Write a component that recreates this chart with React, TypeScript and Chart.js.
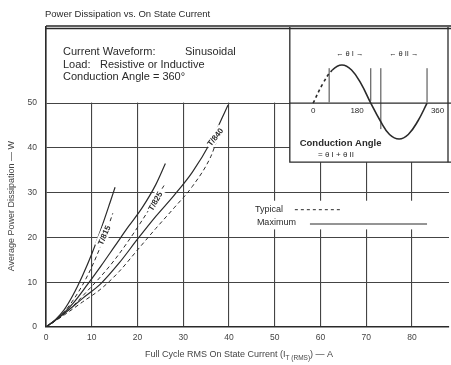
import React, { useEffect, useRef } from "react";
import { Chart, registerables } from "chart.js";
Chart.register(...registerables);

const xTicks = [0, 10, 20, 30, 40, 50, 60, 70, 80];
const yTicks = [0, 10, 20, 30, 40, 50];

const c1MaxX = [0, 2, 4, 6, 8, 10, 12, 14, 15.1];
const c1MaxY = [0, 1.6, 3.9, 7.3, 11.5, 16.3, 21.8, 27.8, 31.2];
const c1TypX = [0, 2, 4, 6, 8, 10, 12, 14, 14.6];
const c1TypY = [0, 1.4, 3.4, 6.1, 9.4, 13.4, 18.2, 23.6, 25.4];

const c2MaxX = [0, 3, 6, 9, 12, 15, 18, 21, 24, 26.1];
const c2MaxY = [0, 2.3, 5.4, 9.4, 13.6, 18.0, 22.4, 26.6, 31.8, 36.5];
const c2TypX = [0, 3, 6, 9, 12, 15, 18, 21, 24, 25.8];
const c2TypY = [0, 2.1, 4.8, 8.0, 11.3, 15.0, 19.2, 23.8, 28.6, 31.6];

const c3MaxX = [0, 4, 8, 12, 16, 20, 24, 28, 32, 36, 39.8];
const c3MaxY = [0, 3.0, 6.4, 9.7, 14.3, 19.6, 24.7, 29.4, 34.6, 41.3, 49.6];
const c3TypX = [0, 4, 8, 12, 16, 20, 24, 28, 32, 36, 37.4];
const c3TypY = [0, 2.7, 5.6, 8.5, 12.4, 17.2, 22.0, 26.6, 31.4, 38.0, 41.8];

const curveLabels = ["T/815", "T/825", "T/840"];
const curveLabelX = [12.7, 23.9, 37.0];
const curveLabelY = [20.5, 28.1, 42.4];
const curveLabelAngle = [66, 60, 52];

const sineX = [58.4, 60.5, 62.6, 64.7, 66.8, 68.9, 71.0, 73.1, 75.1, 77.2, 79.2, 81.3, 83.3];
const sineY = [50, 54.3, 57.4, 58.5, 57.4, 54.3, 50, 46, 43, 42, 43, 46, 50];

const FONT = "'Liberation Sans', Arial, Helvetica, sans-serif";
const INK = "#2a2a2a";

const pts = (xs: number[], ys: number[]) => xs.map((x, i) => ({ x, y: ys[i] }));

const decor = {
  id: "decor",
  beforeDatasetsDraw(chart: any) {
    const { ctx, chartArea: a, scales } = chart;
    const xs = scales.x, ys = scales.y;
    const y50 = ys.getPixelForValue(50);
    const xBox = xs.getPixelForValue(53.3);
    const yBoxBottom = ys.getPixelForValue(36.8);
    ctx.save();
    ctx.fillStyle = "#fff";
    // top text box
    ctx.fillRect(a.left + 1, a.top, a.right - a.left, y50 - a.top - 0.5);
    // inset box
    ctx.fillRect(xBox, a.top, a.right - xBox + 2, yBoxBottom - a.top);
    // legend background
    ctx.fillRect(xs.getPixelForValue(44.5), ys.getPixelForValue(28.2), xs.getPixelForValue(84.5) - xs.getPixelForValue(44.5), ys.getPixelForValue(21.8) - ys.getPixelForValue(28.2));
    ctx.strokeStyle = INK;
    ctx.lineWidth = 1.3;
    // sine axis line
    ctx.beginPath();
    ctx.moveTo(xBox, y50);
    ctx.lineTo(a.right + 2, y50);
    ctx.stroke();
    // inset border
    ctx.beginPath();
    ctx.moveTo(xBox, a.top);
    ctx.lineTo(xBox, yBoxBottom);
    ctx.lineTo(a.right + 2, yBoxBottom);
    ctx.stroke();
    ctx.beginPath();
    ctx.moveTo(a.right - 1, a.top);
    ctx.lineTo(a.right - 1, yBoxBottom);
    ctx.stroke();
    // top frame (double line)
    ctx.lineWidth = 1.4;
    ctx.beginPath();
    ctx.moveTo(a.left, a.top - 1);
    ctx.lineTo(a.right + 2, a.top - 1);
    ctx.moveTo(a.left, a.top + 1.5);
    ctx.lineTo(a.right + 2, a.top + 1.5);
    ctx.stroke();
    // bracket lines in inset
    ctx.lineWidth = 0.9;
    const br = [
      [61.9, 57.8, 50.2],
      [71.0, 57.8, 50.5],
      [73.2, 57.8, 44.2],
      [83.3, 57.8, 50.2],
    ];
    ctx.beginPath();
    br.forEach(([x, y1, y2]) => {
      const px = xs.getPixelForValue(x);
      ctx.moveTo(px, ys.getPixelForValue(y1));
      ctx.lineTo(px, ys.getPixelForValue(y2));
    });
    ctx.stroke();
    // legend samples
    ctx.lineWidth = 1;
    ctx.setLineDash([3, 3]);
    ctx.beginPath();
    ctx.moveTo(xs.getPixelForValue(54.4), ys.getPixelForValue(26.2));
    ctx.lineTo(xs.getPixelForValue(64.3), ys.getPixelForValue(26.2));
    ctx.stroke();
    ctx.setLineDash([]);
    ctx.beginPath();
    ctx.moveTo(xs.getPixelForValue(57.7), ys.getPixelForValue(23.0));
    ctx.lineTo(xs.getPixelForValue(83.3), ys.getPixelForValue(23.0));
    ctx.stroke();
    ctx.restore();
  },
  afterDatasetsDraw(chart: any) {
    const { ctx, chartArea: a, scales } = chart;
    const xs = scales.x, ys = scales.y;
    ctx.save();
    ctx.fillStyle = INK;
    ctx.textBaseline = "middle";
    // title
    ctx.font = `9.5px ${FONT}`;
    ctx.textAlign = "left";
    ctx.fillText("Power Dissipation vs. On State Current", 45, 14);
    // text box
    ctx.font = `11px ${FONT}`;
    ctx.fillText("Current Waveform:", 63, 52);
    ctx.fillText("Sinusoidal", 185, 52);
    ctx.fillText("Load:", 63, 65);
    ctx.fillText("Resistive or Inductive", 100, 65);
    ctx.fillText("Conduction Angle = 360\u00b0", 63, 77);
    // inset labels
    ctx.font = `8px ${FONT}`;
    ctx.textAlign = "center";
    ctx.fillText("0", xs.getPixelForValue(58.4), ys.getPixelForValue(48.2));
    ctx.fillText("180", xs.getPixelForValue(68.0), ys.getPixelForValue(48.2));
    ctx.fillText("360", xs.getPixelForValue(85.6), ys.getPixelForValue(48.2));
    ctx.font = `7.5px ${FONT}`;
    ctx.fillText("\u2190 \u03b8 I \u2192", xs.getPixelForValue(66.4), ys.getPixelForValue(61.0));
    ctx.fillText("\u2190 \u03b8 II \u2192", xs.getPixelForValue(78.2), ys.getPixelForValue(61.0));
    ctx.font = `bold 9.5px ${FONT}`;
    ctx.fillText("Conduction Angle", xs.getPixelForValue(64.4), ys.getPixelForValue(41.1));
    ctx.font = `8px ${FONT}`;
    ctx.fillText("= \u03b8 I + \u03b8 II", xs.getPixelForValue(63.4), ys.getPixelForValue(38.5));
    // legend
    ctx.textAlign = "left";
    ctx.font = `9px ${FONT}`;
    ctx.fillText("Typical", xs.getPixelForValue(45.7), ys.getPixelForValue(26.3));
    ctx.fillText("Maximum", xs.getPixelForValue(46.1), ys.getPixelForValue(23.4));
    // curve labels
    ctx.font = `bold 8px ${FONT}`;
    curveLabels.forEach((t, i) => {
      const px = xs.getPixelForValue(curveLabelX[i]);
      const py = ys.getPixelForValue(curveLabelY[i]);
      ctx.save();
      ctx.translate(px, py);
      ctx.rotate((-curveLabelAngle[i] * Math.PI) / 180);
      const w = ctx.measureText(t).width;
      ctx.fillStyle = "#fff";
      ctx.fillRect(-w / 2 - 2, -5, w + 4, 10);
      ctx.fillStyle = INK;
      ctx.textAlign = "center";
      ctx.fillText(t, 0, 0.5);
      ctx.restore();
    });
    // axis titles
    ctx.fillStyle = "#444";
    ctx.font = `9px ${FONT}`;
    ctx.save();
    ctx.translate(12, ys.getPixelForValue(27));
    ctx.rotate(-Math.PI / 2);
    ctx.textAlign = "center";
    ctx.fillText("Average Power Dissipation \u2014 W", 0, 0);
    ctx.restore();
    // x title with subscript
    const p1 = "Full Cycle RMS On State Current (I";
    const sub = "T (RMS)";
    const p2 = ") \u2014 A";
    ctx.font = `9px ${FONT}`;
    const w1 = ctx.measureText(p1).width;
    const w3 = ctx.measureText(p2).width;
    ctx.font = `6.5px ${FONT}`;
    const w2 = ctx.measureText(sub).width;
    const total = w1 + w2 + w3;
    let x0 = 239 - total / 2;
    ctx.textAlign = "left";
    ctx.font = `9px ${FONT}`;
    ctx.fillText(p1, x0, 355);
    ctx.font = `6.5px ${FONT}`;
    ctx.fillText(sub, x0 + w1, 358);
    ctx.font = `9px ${FONT}`;
    ctx.fillText(p2, x0 + w1 + w2, 355);
    ctx.restore();
  },
};

export default function App() {
  const ref = useRef<HTMLCanvasElement>(null);
  useEffect(() => {
    document.body.style.margin = "0";
    const solid = { borderColor: INK, borderWidth: 1.2, pointRadius: 0, fill: false, cubicInterpolationMode: "monotone" as const };
    const dashed = { ...solid, borderWidth: 1, borderDash: [4, 3] };
    const chart = new Chart(ref.current!, {
      type: "scatter",
      data: {
        datasets: [
          { label: "T/815 max", data: pts(c1MaxX, c1MaxY), showLine: true, ...solid },
          { label: "T/815 typ", data: pts(c1TypX, c1TypY), showLine: true, ...dashed },
          { label: "T/825 max", data: pts(c2MaxX, c2MaxY), showLine: true, ...solid },
          { label: "T/825 typ", data: pts(c2TypX, c2TypY), showLine: true, ...dashed },
          { label: "T/840 max", data: pts(c3MaxX, c3MaxY), showLine: true, ...solid },
          { label: "T/840 typ", data: pts(c3TypX, c3TypY), showLine: true, ...dashed },
          {
            label: "waveform",
            data: pts(sineX, sineY),
            showLine: true,
            borderColor: INK,
            borderWidth: 1.6,
            pointRadius: 0,
            tension: 0.4,
            segment: { borderDash: (c: any) => (c.p0DataIndex < 2 ? [3, 3] : undefined) },
          } as any,
        ],
      },
      options: {
        responsive: false,
        animation: false,
        layout: { padding: { top: 27, right: 2, left: 0, bottom: 0 } },
        plugins: { legend: { display: false }, tooltip: { enabled: false }, title: { display: false } },
        scales: {
          x: {
            type: "linear",
            min: 0,
            max: 88.1,
            afterBuildTicks: (s: any) => { s.ticks = xTicks.map((v) => ({ value: v })); },
            afterFit: (s: any) => { s.height = 38; },
            ticks: { color: "#444", font: { size: 8.5, family: FONT }, padding: 6 },
            grid: { color: "#444", lineWidth: 1.1, drawTicks: false },
            border: { color: INK, width: 1.6 },
          },
          y: {
            type: "linear",
            min: 0,
            max: 67,
            afterBuildTicks: (s: any) => { s.ticks = yTicks.map((v) => ({ value: v })); },
            afterFit: (s: any) => { s.width = 46; },
            ticks: { color: "#444", font: { size: 8.5, family: FONT }, padding: 9 },
            grid: { color: "#444", lineWidth: 1.1, drawTicks: false },
            border: { color: INK, width: 1.6 },
          },
        },
      },
      plugins: [decor],
    });
    return () => chart.destroy();
  }, []);
  return (
    <div style={{ width: 451, height: 365, background: "#fff" }}>
      <canvas ref={ref} width={451} height={365} style={{ display: "block" }} />
    </div>
  );
}
